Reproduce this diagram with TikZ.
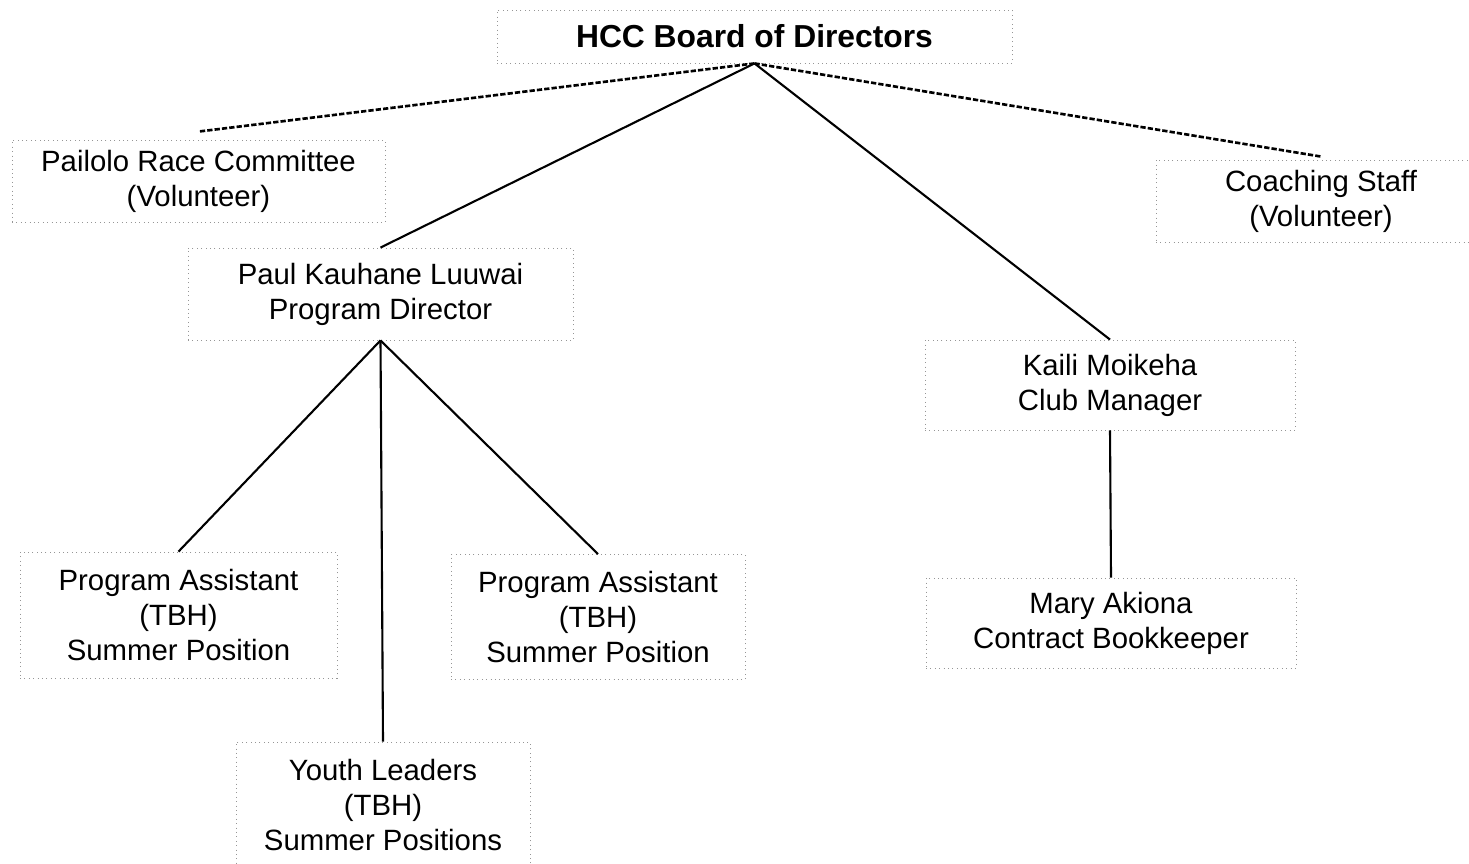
\documentclass[tikz,border=0pt]{standalone}
\usepackage{fontspec}
\setmainfont{Liberation Sans}
\usepackage{tikz}
\usetikzlibrary{positioning, calc}
\usepackage{xcolor}
\definecolor{boxgray}{RGB}{150, 150, 150}

\begin{document}
\begin{tikzpicture}[x=0.02cm, y=-0.02cm]
    % Styles
    \tikzstyle{role}=[draw=boxgray, dotted, line width=0.5pt, inner sep=0pt, align=center,
        font=\fontsize{16.7}{19.9}\selectfont]
    \tikzstyle{link}=[line width=1.2pt]
    \tikzstyle{vol}=[line width=1.5pt, dash pattern=on 3pt off 1.2pt]

    \useasboundingbox (0,0) rectangle (1469,864);

    % Board
    \node[role, minimum width=10.3cm, minimum height=1.06cm, font=\fontsize{18.1}{21}\selectfont\bfseries] (board) at (754.5,36.5) {HCC Board of Directors};

    % Volunteers
    \node[role, minimum width=7.46cm, minimum height=1.64cm] (pailolo) at (198.5,181) {Pailolo Race Committee\\(Volunteer)};
    \node[role, minimum width=6.6cm, minimum height=1.64cm] (coach) at (1321,201) {Coaching Staff\\(Volunteer)};

    % Staff
    \node[role, minimum width=7.7cm, minimum height=1.84cm] (paul) at (380.5,294) {Paul Kauhane Luuwai\\Program Director};
    \node[role, minimum width=7.4cm, minimum height=1.8cm] (kaili) at (1110,385) {Kaili Moikeha\\Club Manager};

    % Program team
    \node[role, minimum width=6.34cm, minimum height=2.52cm] (pa1) at (178.5,615) {Program Assistant\\(TBH)\\Summer Position};
    \node[role, minimum width=5.88cm, minimum height=2.5cm] (pa2) at (598,617) {Program Assistant\\(TBH)\\Summer Position};
    \node[role, minimum width=5.88cm, minimum height=2.52cm] (youth) at (383,805) {Youth Leaders\\(TBH)\\Summer Positions};

    % Club team
    \node[role, minimum width=7.4cm, minimum height=1.8cm] (mary) at (1111,623) {Mary Akiona\\Contract Bookkeeper};

    % Lines
    \draw[vol] (board.south) -- ([yshift=0.16cm]pailolo.north);
    \draw[vol] (board.south) -- ([yshift=0.06cm]coach.north);
    \draw[link] (board.south) -- (paul.north);
    \draw[link] (board.south) -- (kaili.north);
    \draw[link] (paul.south) -- (pa1.north);
    \draw[link] (paul.south) -- (pa2.north);
    \draw[link] (paul.south) -- (youth.north);
    \draw[link] (kaili.south) -- (mary.north);
\end{tikzpicture}
\end{document}
